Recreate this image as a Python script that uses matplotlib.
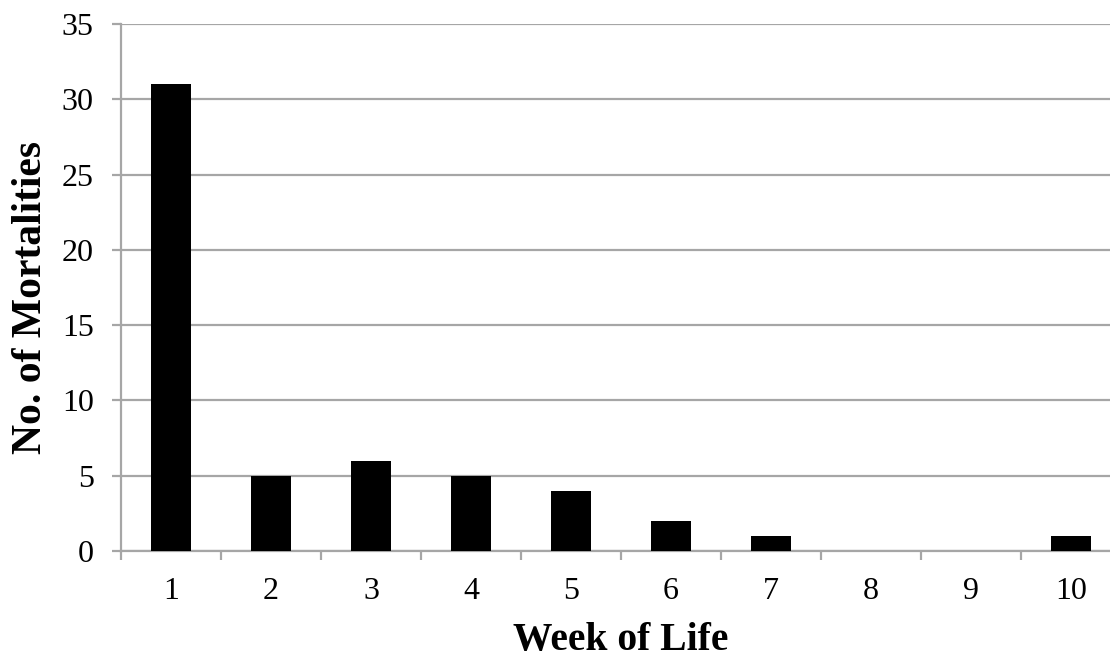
import matplotlib
matplotlib.use("Agg")
import matplotlib.pyplot as plt
import numpy as np

weeks = ["1", "2", "3", "4", "5", "6", "7", "8", "9", "10"]
mortalities = [31, 5, 6, 5, 4, 2, 1, 0, 0, 1]
yticks = [0, 5, 10, 15, 20, 25, 30, 35]

plt.rcParams['font.family'] = ['Liberation Serif', 'DejaVu Serif']

W, H = 1110, 658
fig = plt.figure(figsize=(W/100, H/100), dpi=100)
left, right, bottom, top = 121, 1121, 551, 24
ax = fig.add_axes([left/W, 1 - bottom/H, (right-left)/W, (bottom-top)/H])

x = np.arange(len(weeks))
ax.bar(x, mortalities, width=0.4, color='black', zorder=3)
ax.set_xlim(-0.5, len(weeks) - 0.5)
ax.set_ylim(0, 35)
ax.set_yticks(yticks)
ax.yaxis.grid(True, color='#a6a6a6', linewidth=1.6, zorder=0)
ax.set_xticks(x)
ax.set_xticklabels(weeks)
ax.set_xticks(np.arange(-0.5, len(weeks) + 0.5, 1), minor=True)
ax.tick_params(axis='x', which='major', length=0, pad=19, labelsize=23)
ax.tick_params(axis='x', which='minor', length=6.5, width=1.6, color='#a6a6a6', direction='out')
ax.tick_params(axis='y', length=6.5, width=1.6, color='#a6a6a6', labelsize=23, pad=13)
for s in ['top', 'right']:
    ax.spines[s].set_visible(False)
for s in ['left', 'bottom']:
    ax.spines[s].set_color('#a6a6a6')
    ax.spines[s].set_linewidth(1.6)
ax.set_xlabel('Week of Life', fontsize=28.5, fontweight='bold', labelpad=11)
ax.set_ylabel('No. of Mortalities', fontsize=30, fontweight='bold')
ax.yaxis.set_label_coords((50 - left) / (right - left), (bottom - 298) / (bottom - top))

fig.savefig('out.png', dpi=100)
